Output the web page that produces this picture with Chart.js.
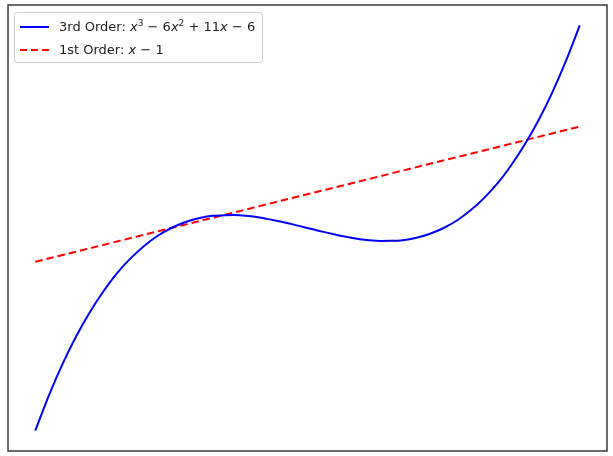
<!DOCTYPE html>
<html>
<head>
<meta charset="utf-8">
<script src="https://cdn.jsdelivr.net/npm/chart.js@4/dist/chart.umd.min.js"></script>
<style>
  html, body { margin: 0; padding: 0; background: #fff; }
  #wrap { position: relative; width: 613px; height: 456px; }
  #legend {
    position: absolute; left: 14px; top: 12px;
    border: 1px solid #d0d0d0; border-radius: 3px; background: rgba(255,255,255,0.8);
    padding: 2px 7px 1px 5px;
    font-family: "DejaVu Sans", sans-serif; font-size: 13px; color: #222;
  }
  .row { display: flex; align-items: center; height: 23px; }
  .handle { width: 29px; height: 2px; margin-right: 10px; }
  .solid { background: #0000ff; }
  .dashed { background: repeating-linear-gradient(90deg, #ff0000 0 7px, transparent 7px 11px); }
  sup { font-size: 9px; line-height: 0; }
</style>
</head>
<body>
<div id="wrap">
  <canvas id="chart" width="613" height="456"></canvas>
  <div id="legend"></div>
</div>
<script>
// values
const xValues = [0, 0.1, 0.2, 0.3, 0.4, 0.5, 0.6, 0.7, 0.8, 0.9, 1.0,
                 1.1, 1.2, 1.3, 1.4, 1.5, 1.6, 1.7, 1.8, 1.9, 2.0,
                 2.1, 2.2, 2.3, 2.4, 2.5, 2.6, 2.7, 2.8, 2.9, 3.0,
                 3.1, 3.2, 3.3, 3.4, 3.5, 3.6, 3.7, 3.8, 3.9, 4.0];
const cubicValues = [-6, -4.96, -4.03, -3.21, -2.5, -1.88, -1.34, -0.9, -0.53, -0.23, 0,
                     0.17, 0.29, 0.36, 0.38, 0.38, 0.34, 0.27, 0.19, 0.1, 0,
                     -0.1, -0.19, -0.27, -0.34, -0.38, -0.38, -0.36, -0.29, -0.17, 0,
                     0.23, 0.53, 0.9, 1.34, 1.88, 2.5, 3.21, 4.03, 4.96, 6];
const lineX = [0, 4];
const lineValues = [-1, 3];
const seriesLabels = [
  '3rd Order: <i>x</i><sup>3</sup> \u2212 6<i>x</i><sup>2</sup> + 11<i>x</i> \u2212 6',
  '1st Order: <i>x</i> \u2212 1'
];

const toPoints = (xs, ys) => xs.map((x, i) => ({ x: x, y: ys[i] }));

// plain frame around the plot area (matplotlib spines, no ticks)
const framePlugin = {
  id: 'frame',
  afterDraw(chart) {
    const { ctx, chartArea: a } = chart;
    ctx.save();
    ctx.strokeStyle = '#3a3a3a';
    ctx.lineWidth = 1.5;
    ctx.strokeRect(a.left, a.top, a.right - a.left, a.bottom - a.top);
    ctx.restore();
  }
};

new Chart(document.getElementById('chart'), {
  type: 'line',
  data: {
    datasets: [{
      label: '3rd Order',
      data: toPoints(xValues, cubicValues),
      borderColor: '#0000ff',
      borderWidth: 2,
      pointRadius: 0,
      tension: 0.3,
      fill: false
    }, {
      label: '1st Order',
      data: toPoints(lineX, lineValues),
      borderColor: '#ff0000',
      borderWidth: 2,
      borderDash: [7.5, 4],
      pointRadius: 0,
      fill: false
    }]
  },
  options: {
    responsive: false,
    animation: false,
    layout: { padding: { left: 8, top: 5, right: 6, bottom: 5 } },
    plugins: { legend: { display: false }, tooltip: { enabled: false } },
    scales: {
      x: { type: 'linear', min: -0.2, max: 4.2, display: false },
      y: { type: 'linear', min: -6.6, max: 6.6, display: false }
    }
  },
  plugins: [framePlugin]
});

const legend = document.getElementById('legend');
const styles = ['solid', 'dashed'];
seriesLabels.forEach((html, i) => {
  const row = document.createElement('div');
  row.className = 'row';
  row.innerHTML = '<span class="handle ' + styles[i] + '"></span><span>' + html + '</span>';
  legend.appendChild(row);
});
</script>
</body>
</html>
